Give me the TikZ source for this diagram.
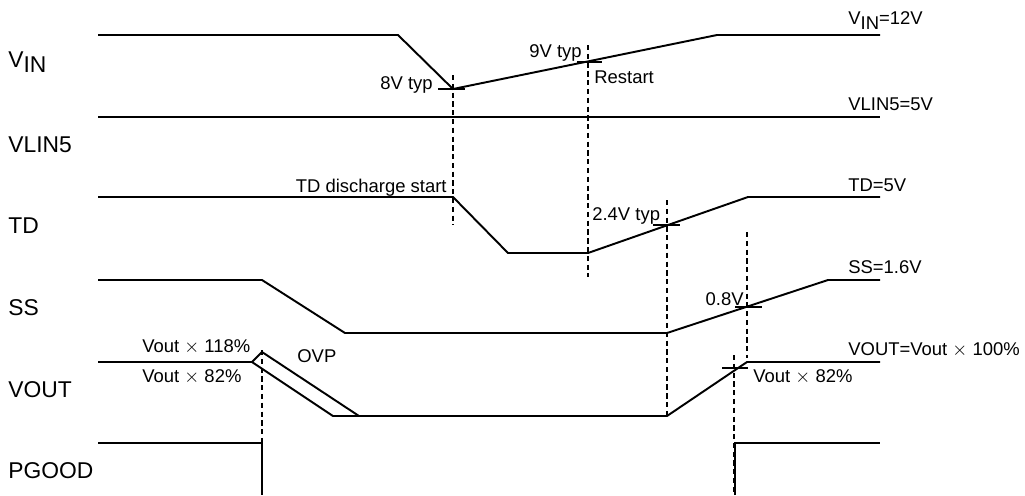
\documentclass[tikz,border=0pt]{standalone}
\usepackage{fontspec}
\setmainfont{Liberation Sans}
\usetikzlibrary{positioning}

\begin{document}
\begin{tikzpicture}[
  x=0.02cm, y=-0.02cm,
  every node/.style={inner sep=0pt, font=\fontsize{10.5}{12}\selectfont},
  signame/.style={anchor=base west, font=\fontsize{13}{15}\selectfont},
  sig/.style={line width=1.1pt, line join=miter},
  guide/.style={line width=0.6pt, dash pattern=on 3pt off 2pt},
  tick/.style={line width=0.6pt},
]

\useasboundingbox (0,0) rectangle (1025,495);

%% Signal names on the left
\node[signame] (nvin)   at (8,67)  {V\raisebox{-3.4pt}{IN}};
\node[signame] (nvlin)  at (8,152) {VLIN5};
\node[signame] (ntd)    at (8,233) {TD};
\node[signame] (nss)    at (8,315) {SS};
\node[signame] (nvout)  at (8,397) {VOUT};
\node[signame] (npgood) at (8,478) {PGOOD};

%% ---- Guide lines ----
\draw[guide] (453,75)  -- (453,225);
\draw[guide] (588,45)  -- (588,277);
\draw[guide] (667,200) -- (667,415);
\draw[guide] (747,232) -- (747,358);
\draw[guide] (734,355) -- (734,495);
\draw[guide] (262,350) -- (262,495);

%% ---- Waveforms ----
% V_IN
\draw[sig] (98,35) -- (398,35) -- (453,89) -- (717,35) -- (880,35);
% VLIN5
\draw[sig] (98,117) -- (880,117);
% TD
\draw[sig] (98,197) -- (453,197) -- (508,253) -- (588,253) -- (748,197) -- (880,197);
% SS
\draw[sig] (98,280) -- (262,280) -- (345,333) -- (667,333) -- (828,280) -- (880,280);
% VOUT (with OVP excursion)
\draw[sig] (98,362) -- (252,362) -- (262,352) -- (359,416);
\draw[sig] (252,362) -- (333,416) -- (667,416) -- (747,362) -- (880,362);
% PGOOD
\draw[sig] (98,443) -- (262,443) -- (262,495);
\draw[sig] (735,495) -- (735,443) -- (880,443);

%% ---- Threshold ticks ----
\draw[tick] (438,89)  -- (465,89);
\draw[tick] (577,62)  -- (602,62);
\draw[tick] (653,225) -- (680,225);
\draw[tick] (735,307) -- (762,307);
\draw[tick] (722,368) -- (748,368);

%% ---- Annotations ----
\node[anchor=base east] (l8v)    at (433,89)  {8V typ};
\node[anchor=base east] (l9v)    at (582,57)  {9V typ};
\node[anchor=base west] (lrst)   at (594,83)  {Restart};
\node[anchor=base east] (ltdd)   at (447,192) {TD discharge start};
\node[anchor=base west] (l24)    at (592,220) {2.4V typ};
\node[anchor=base east] (l08)    at (744,305) {0.8V};
\node[anchor=base west] (l118)   at (142,352) {Vout $\times$ 118\%};
\node[anchor=base west] (l82a)   at (142,382) {Vout $\times$ 82\%};
\node[anchor=base west] (lovp)   at (297,362) {OVP};
\node[anchor=base west] (l82b)   at (753,382) {Vout $\times$ 82\%};

%% End values on the right
\node[anchor=base west] (evin)  at (848,24)  {V\raisebox{-3.4pt}{IN}=12V};
\node[anchor=base west] (evlin) at (848,110) {VLIN5=5V};
\node[anchor=base west] (etd)   at (848,191) {TD=5V};
\node[anchor=base west] (ess)   at (848,273) {SS=1.6V};
\node[anchor=base west] (evout) at (848,355) {VOUT=Vout $\times$ 100\%};

\end{tikzpicture}
\end{document}
